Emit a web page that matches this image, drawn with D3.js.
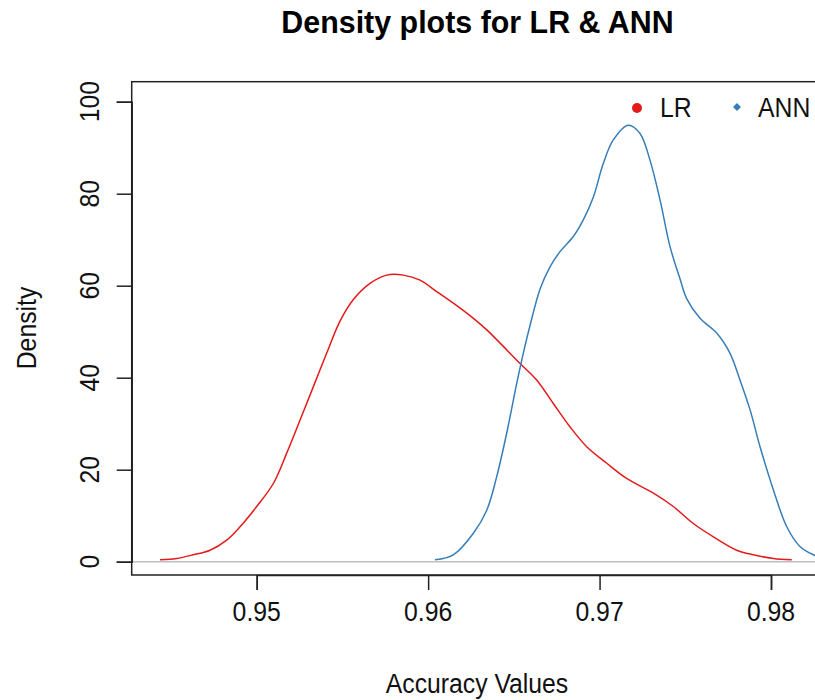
<!DOCTYPE html>
<html>
<head>
<meta charset="utf-8">
<script src="https://cdn.jsdelivr.net/npm/d3@7"></script>
<style>
  html, body { margin: 0; padding: 0; background: #fff; }
  svg { display: block; }
  text { font-family: "Liberation Sans", Arial, sans-serif; }
</style>
</head>
<body>
<div id="chart"></div>
<script>
// ---- data ----
const seriesNames = ["LR", "ANN"];
const seriesColors = ["#E41A1C", "#377EB8"];

const lrAccuracy = [0.94436, 0.94533, 0.9463, 0.94728, 0.94825, 0.94903, 0.95, 0.95097, 0.95175, 0.95253,
  0.9533, 0.95408, 0.95486, 0.95564, 0.95661, 0.95758, 0.95855, 0.95953, 0.9605, 0.96147,
  0.96264, 0.96342, 0.96536, 0.96633, 0.9673, 0.96828, 0.96925, 0.97042, 0.97158, 0.97314,
  0.9743, 0.97547, 0.97664, 0.978, 0.97897, 0.98014, 0.98121];
const lrDensity = [0.4, 0.7, 1.5, 2.5, 4.7, 7.6, 12.0, 17.0, 23.6, 30.8,
  38.0, 45.3, 52.3, 57.0, 60.5, 62.3, 62.3, 61.2, 58.7, 56.2,
  52.9, 50.4, 43.1, 39.5, 34.4, 29.3, 25.0, 21.4, 18.1, 14.9,
  12.0, 8.3, 5.4, 2.5, 1.5, 0.7, 0.4];

const annAccuracy = [0.9604, 0.96147, 0.96264, 0.96342, 0.964, 0.96458, 0.96517, 0.96555, 0.96594, 0.96653,
  0.96711, 0.96769, 0.96847, 0.96905, 0.96964, 0.97022, 0.9708, 0.97168, 0.97236, 0.97294,
  0.97353, 0.97411, 0.97469, 0.97508, 0.97586, 0.97683, 0.97761, 0.97819, 0.97878, 0.97936,
  0.98014, 0.98092, 0.98169, 0.98247, 0.9834, 0.9852];
const annDensity = [0.4, 1.5, 6.2, 11.2, 18.5, 27.9, 38.8, 45.3, 51.3, 59.3,
  64.1, 67.4, 70.7, 74.3, 79.3, 86.6, 91.7, 94.9, 93.1, 87.3,
  78.6, 68.5, 61.5, 57.2, 52.9, 49.7, 45.3, 39.5, 33.0, 25.0,
  15.6, 7.6, 3.3, 1.5, 0.5, 0.15];

const xTicks = [0.95, 0.96, 0.97, 0.98];
const yTicks = [0, 20, 40, 60, 80, 100];
const titleText = "Density plots for LR & ANN";
const xLabel = "Accuracy Values";
const yLabel = "Density";

// ---- layout ----
const W = 815, H = 700;
const box = { left: 131.7, top: 81.7, right: 903, bottom: 575 };

const svg = d3.select("#chart").append("svg")
  .attr("width", W).attr("height", H);

const x = d3.scaleLinear().domain([0.95, 0.98]).range([256.7, 771]);
const y = d3.scaleLinear().domain([0, 100]).range([561.7, 101.7]);

function addText(px, py, str, size, opts = {}) {
  const sx = opts.sx || 0.9; // horizontal squeeze of the reference's text
  const g = svg.append("g")
    .attr("transform", `translate(${px},${py})` + (opts.rotate ? ` rotate(${opts.rotate})` : "") + ` scale(${sx},1)`);
  g.append("text")
    .attr("x", 0).attr("y", 0)
    .attr("text-anchor", opts.anchor || "middle")
    .attr("font-size", size)
    .attr("font-weight", opts.bold ? "bold" : "normal")
    .attr("fill", opts.fill || "#000")
    .text(str);
  return g;
}

// clip path for plot region
svg.append("defs").append("clipPath").attr("id", "plotclip")
  .append("rect")
  .attr("x", box.left).attr("y", box.top)
  .attr("width", box.right - box.left).attr("height", box.bottom - box.top);

// zero reference line
svg.append("line")
  .attr("x1", box.left).attr("x2", box.right)
  .attr("y1", y(0)).attr("y2", y(0))
  .attr("stroke", "#bebebe").attr("stroke-width", 1.6);

// density curves
const lr = lrAccuracy.map((a, i) => [a, lrDensity[i]]);
const ann = annAccuracy.map((a, i) => [a, annDensity[i]]);
const line = d3.line().x(d => x(d[0])).y(d => y(d[1])).curve(d3.curveCatmullRom.alpha(0.5));

const curves = svg.append("g").attr("clip-path", "url(#plotclip)");
[lr, ann].forEach((s, i) => {
  curves.append("path").datum(s)
    .attr("d", line)
    .attr("fill", "none")
    .attr("stroke", seriesColors[i])
    .attr("stroke-width", 1.5);
});

// plot box
svg.append("rect")
  .attr("x", box.left).attr("y", box.top)
  .attr("width", box.right - box.left).attr("height", box.bottom - box.top)
  .attr("fill", "none").attr("stroke", "#222").attr("stroke-width", 1.5);

// x axis
const xAxis = d3.axisBottom(x).tickValues(xTicks).tickSize(15).tickFormat("");
const gx = svg.append("g").attr("transform", `translate(0,${box.bottom})`).call(xAxis);
gx.select(".domain").attr("stroke", "#222").attr("stroke-width", 1.5);
gx.selectAll(".tick line").attr("stroke", "#222").attr("stroke-width", 1.5);
xTicks.forEach(t => addText(x(t), 621, d3.format(".2f")(t), 27.5, { fill: "#111" }));

// y axis
const yAxis = d3.axisLeft(y).tickValues(yTicks).tickSize(15).tickFormat("");
const gy = svg.append("g").attr("transform", `translate(${box.left},0)`).call(yAxis);
gy.select(".domain").attr("stroke", "#222").attr("stroke-width", 1.5);
gy.selectAll(".tick line").attr("stroke", "#222").attr("stroke-width", 1.5);
yTicks.forEach(t => addText(99, y(t), String(t), 27.5, { rotate: -90, fill: "#111" }));

// labels
addText(477.5, 33, titleText, 32, { bold: true, sx: 0.95 });
addText(477, 693, xLabel, 27.5, { fill: "#111" });
addText(36, 328, yLabel, 27.5, { rotate: -90, fill: "#111" });

// legend
svg.append("circle").attr("cx", 637).attr("cy", 108).attr("r", 5).attr("fill", seriesColors[0]);
addText(660, 117, seriesNames[0], 27.5, { anchor: "start", fill: "#111" });
svg.append("path")
  .attr("d", d3.symbol().type(d3.symbolDiamond2).size(40)())
  .attr("transform", "translate(737,107)")
  .attr("fill", seriesColors[1]);
addText(758, 117, seriesNames[1], 27.5, { anchor: "start", fill: "#111" });
</script>
</body>
</html>
